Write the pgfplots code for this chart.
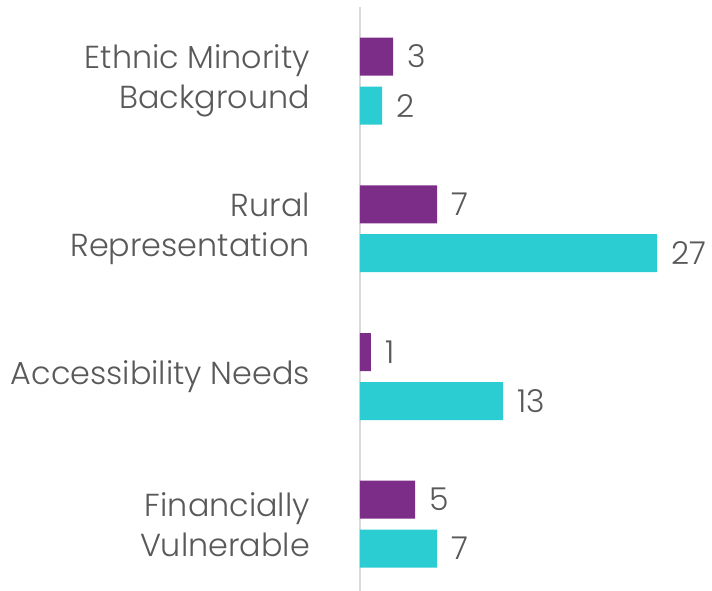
\documentclass[border=0pt]{standalone}
\usepackage{pgfplots}
\pgfplotsset{compat=1.18}
\usepackage{fontspec}
\setmainfont{Poppins}[UprightFont={* Light}]
\definecolor{cpurple}{HTML}{7B2D88}
\definecolor{ccyan}{HTML}{2BCDD3}
\definecolor{ctext}{HTML}{595959}
\definecolor{cline}{HTML}{D9D9D9}
\begin{document}
\begin{tikzpicture}[x=1pt,y=1pt]
\path[use as bounding box] (0,0) rectangle (712,591);
\begin{axis}[
  at={(360pt,0pt)}, anchor=south west,
  scale only axis, width=330pt, height=584pt,
  xmin=0, xmax=30, ymin=-0.5, ymax=3.446, y dir=reverse,
  axis x line=none,
  axis y line*=left,
  y axis line style={draw=cline, line width=1.5pt, -},
  ytick={0,1,2,3},
  yticklabels={{Ethnic Minority\\Background},{Rural\\Representation},{Accessibility Needs},{Financially\\Vulnerable}},
  yticklabel style={align=right, font=\fontsize{31.8}{40}\selectfont, text=ctext, inner sep=0pt, xshift=-50pt},
  major tick length=0pt,
  xbar, bar width=38pt, bar shift=0pt,
  nodes near coords,
  every node near coord/.append style={font=\fontsize{31.5}{36}\selectfont, text=ctext, inner sep=0pt, xshift=14pt, anchor=west},
  /pgf/number format/assume math mode=true,
  clip=false,
]
\addplot[fill=cpurple, draw=none] coordinates {(3,-0.165) (7,0.833) (1,1.832) (5,2.828)};
\addplot[fill=ccyan, draw=none] coordinates {(2,0.166) (27,1.163) (13,2.163) (7,3.16)};
\end{axis}
\end{tikzpicture}
\end{document}
